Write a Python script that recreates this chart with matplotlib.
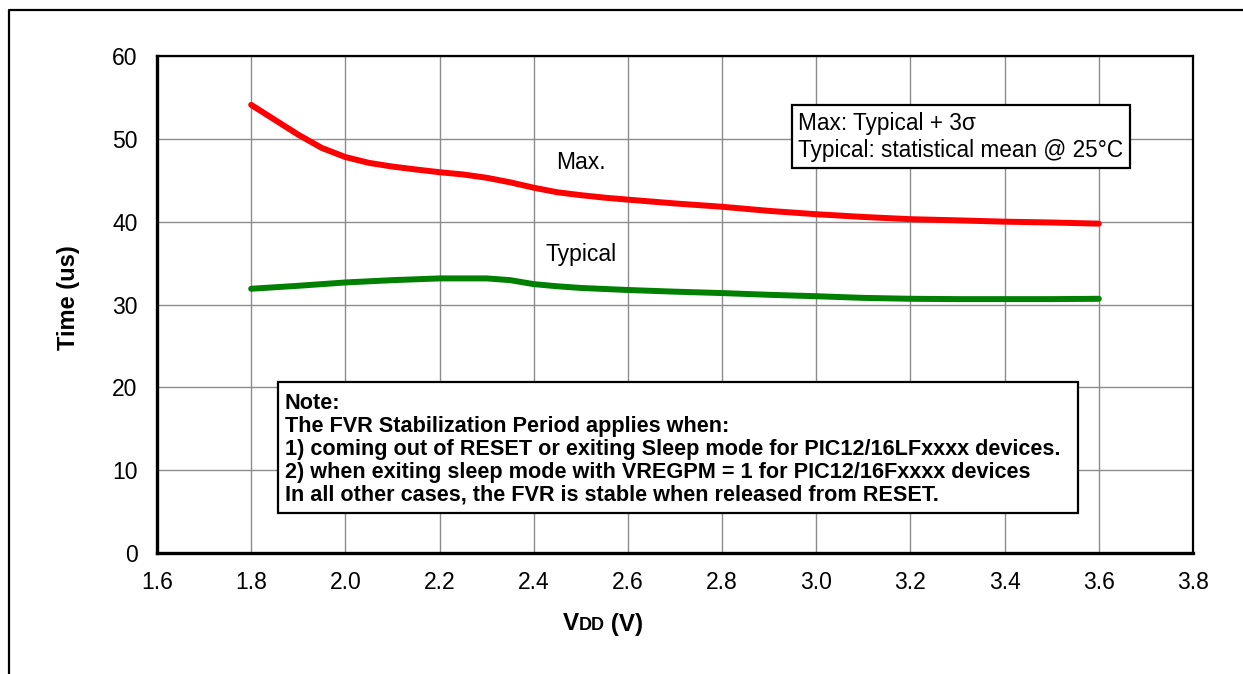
import numpy as np
import matplotlib.pyplot as plt
from matplotlib.patches import Rectangle
from matplotlib.lines import Line2D
from matplotlib.offsetbox import TextArea, HPacker, AnchoredOffsetbox

plt.rcParams['font.family'] = ['Liberation Sans', 'DejaVu Sans']

# Tension VDD (V) et temps (us)
vdd_max = [1.8, 1.85, 1.9, 1.95, 2.0, 2.05, 2.1, 2.15, 2.2, 2.25, 2.3, 2.35, 2.4, 2.45,
           2.5, 2.55, 2.6, 2.7, 2.8, 2.9, 3.0, 3.1, 3.2, 3.3, 3.4, 3.5, 3.6]
t_max = [54.1, 52.3, 50.5, 48.9, 47.8, 47.1, 46.65, 46.3, 45.97, 45.7, 45.3, 44.75, 44.1, 43.55,
         43.2, 42.9, 42.66, 42.2, 41.8, 41.3, 40.9, 40.57, 40.3, 40.16, 40.0, 39.9, 39.76]

vdd_typ = [1.8, 1.9, 2.0, 2.1, 2.2, 2.3, 2.35, 2.4, 2.45, 2.5, 2.6, 2.7, 2.8, 2.9,
           3.0, 3.1, 3.2, 3.3, 3.4, 3.5, 3.6]
t_typ = [31.9, 32.26, 32.66, 32.94, 33.15, 33.15, 32.94, 32.46, 32.2, 32.0, 31.75, 31.55, 31.38, 31.17,
         31.0, 30.8, 30.69, 30.65, 30.65, 30.65, 30.69]

x_ticks = [1.6, 1.8, 2.0, 2.2, 2.4, 2.6, 2.8, 3.0, 3.2, 3.4, 3.6, 3.8]
y_ticks = [0, 10, 20, 30, 40, 50, 60]

note_lines = [
    "Note:",
    "The FVR Stabilization Period applies when:",
    "1) coming out of RESET or exiting Sleep mode for PIC12/16LFxxxx devices.",
    "2) when exiting sleep mode with VREGPM = 1 for PIC12/16Fxxxx devices",
    "In all other cases, the FVR is stable when released from RESET.",
]
legend_lines = ["Max: Typical + 3σ", "Typical: statistical mean @ 25°C"]

W, H = 1243, 674
fig = plt.figure(figsize=(W / 100, H / 100), dpi=100)
ax = fig.add_axes([157 / W, 1 - 553 / H, (1193 - 157) / W, (553 - 56) / H])

# Cadre de la figure (partiellement visible)
fig.add_artist(Line2D([8.5 / W, 8.5 / W, 1.0], [0.0, 1 - 9.5 / H, 1 - 9.5 / H],
                      transform=fig.transFigure, color='black', lw=1.6))

ax.plot(vdd_max, t_max, color='#ff0000', lw=4.3, solid_capstyle='round',
        solid_joinstyle='round', zorder=3)
ax.plot(vdd_typ, t_typ, color='#008000', lw=4.3, solid_capstyle='round',
        solid_joinstyle='round', zorder=3)

ax.set_xlim(1.6, 3.8)
ax.set_ylim(0, 60)
ax.set_xticks(x_ticks)
ax.set_yticks(y_ticks)
ax.set_xticklabels([f"{v:.1f}" for v in x_ticks])
ax.grid(True, color='#8c8c8c', lw=1.0)
ax.set_axisbelow(True)
ax.tick_params(length=0, labelsize=16.5)
ax.tick_params(axis='x', pad=13)
ax.tick_params(axis='y', pad=14)
for side in ['left', 'bottom']:
    ax.spines[side].set_linewidth(2.4)
for side in ['top', 'right']:
    ax.spines[side].set_linewidth(1.6)

# Étiquettes des axes
fig.text(68 / W, 1 - 298 / H, "Time (us)", rotation=90, ha='center', va='center',
         fontsize=17, fontweight='bold')
label = HPacker(children=[TextArea("V", textprops=dict(fontsize=17.5, fontweight='bold')),
                          TextArea("DD", textprops=dict(fontsize=13, fontweight='bold')),
                          TextArea(" (V)", textprops=dict(fontsize=17.5, fontweight='bold'))],
                align='baseline', pad=0, sep=0)
box = AnchoredOffsetbox(loc='center', child=label, frameon=False,
                        bbox_to_anchor=(603 / W, 1 - 624 / H), bbox_transform=fig.transFigure,
                        borderpad=0, pad=0)
fig.add_artist(box)

# Libellés des courbes
ax.text(2.50, 47.2, "Max.", fontsize=16.5, ha='center', va='center')
ax.text(2.50, 36.0, "Typical", fontsize=16.5, ha='center', va='center')

# Encadré légende
tr = ax.transAxes
def px2ax(x, y):
    return (x - 157) / (1193 - 157), (553 - y) / (553 - 56)

x0, y0 = px2ax(792, 168)
x1, y1 = px2ax(1130, 105)
ax.add_patch(Rectangle((x0, y0), x1 - x0, y1 - y0, transform=tr, facecolor='white',
                       edgecolor='black', lw=1.6, zorder=4))
tx, ty = px2ax(798, 112)
ax.text(tx, ty, "\n".join(legend_lines), transform=tr, fontsize=16.3, ha='left', va='top',
        linespacing=1.25, zorder=5)

# Encadré note
x0, y0 = px2ax(278, 513)
x1, y1 = px2ax(1078, 382)
ax.add_patch(Rectangle((x0, y0), x1 - x0, y1 - y0, transform=tr, facecolor='white',
                       edgecolor='black', lw=1.6, zorder=4))
tx, ty = px2ax(285, 393)
ax.text(tx, ty, "\n".join(note_lines), transform=tr, fontsize=15.6, ha='left', va='top',
        fontweight='bold', linespacing=1.12, zorder=5)

fig.savefig("out.png", dpi=100)
